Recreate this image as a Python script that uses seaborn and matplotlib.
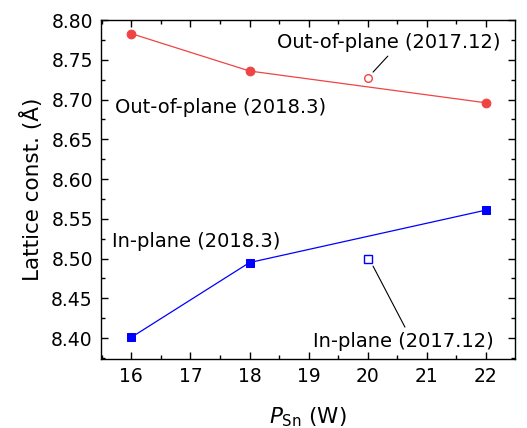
import matplotlib
matplotlib.use("Agg")
import matplotlib.pyplot as plt
import seaborn as sns
import pandas as pd
from matplotlib.ticker import MultipleLocator

# data
p_2018 = [16, 18, 22]
out_2018 = [8.783, 8.736, 8.696]
in_2018 = [8.401, 8.495, 8.561]
p_2017 = [20]
out_2017 = [8.727]
in_2017 = [8.500]

red = "#ef4444"
blue = "#0000ff"

sns.set_style("ticks")
plt.rcParams['font.family'] = ['DejaVu Sans']
plt.rcParams['text.color'] = 'black'
plt.rcParams['axes.labelcolor'] = 'black'
plt.rcParams['xtick.color'] = 'black'
plt.rcParams['ytick.color'] = 'black'
plt.rcParams['axes.edgecolor'] = 'black'

fig, ax = plt.subplots(figsize=(5.27, 4.28), dpi=100)
fig.subplots_adjust(left=0.192, right=0.977, top=0.953, bottom=0.161)

df18 = pd.DataFrame({"P": p_2018, "out": out_2018, "inp": in_2018})
df17 = pd.DataFrame({"P": p_2017, "out": out_2017, "inp": in_2017})

sns.lineplot(data=df18, x="P", y="out", ax=ax, color=red, lw=0.9,
             marker="o", markersize=6.3, markeredgecolor=red, markerfacecolor=red)
sns.lineplot(data=df18, x="P", y="inp", ax=ax, color=blue, lw=0.9,
             marker="s", markersize=5.5, markeredgecolor=blue, markerfacecolor=blue)
ax.plot(df17["P"], df17["out"], "o", color=red, markerfacecolor="white",
        markersize=5.5, markeredgewidth=1.0)
ax.plot(df17["P"], df17["inp"], "s", color=blue, markerfacecolor="white",
        markersize=5.2, markeredgewidth=1.0)

ax.set_xlim(15.49, 22.49)
ax.set_ylim(8.3736, 8.80)
ax.xaxis.set_major_locator(MultipleLocator(1))
ax.xaxis.set_minor_locator(MultipleLocator(0.5))
ax.yaxis.set_major_locator(MultipleLocator(0.05))
ax.yaxis.set_minor_locator(MultipleLocator(0.025))
ax.yaxis.set_major_formatter(matplotlib.ticker.FormatStrFormatter("%.2f"))
ax.tick_params(which="both", direction="in", top=True, right=True, labelsize=13.5,
               width=1.0)
ax.tick_params(which="major", length=5, pad=6)
ax.tick_params(which="minor", length=3)
for s in ax.spines.values():
    s.set_linewidth(1.0)

ax.set_xlabel(r"$P_{\mathrm{Sn}}$ (W)", fontsize=15.5, labelpad=14)
ax.set_ylabel("Lattice const. (Å)", fontsize=15.5, labelpad=6)

fs = 14
# labels with leader lines
ax.text(20.36, 8.7723, "Out-of-plane (2017.12)", fontsize=fs, ha="center", va="center")
ax.plot([20.09, 20.34], [8.7346, 8.7547], color="black", lw=0.8)
ax.text(15.73, 8.6906, "Out-of-plane (2018.3)", fontsize=fs, va="center")
ax.text(15.68, 8.522, "In-plane (2018.3)", fontsize=fs, va="center")
ax.text(20.61, 8.3962, "In-plane (2017.12)", fontsize=fs, ha="center", va="center")
ax.plot([20.09, 20.63], [8.4906, 8.4138], color="black", lw=0.8)

fig.savefig("out.png", dpi=100)
